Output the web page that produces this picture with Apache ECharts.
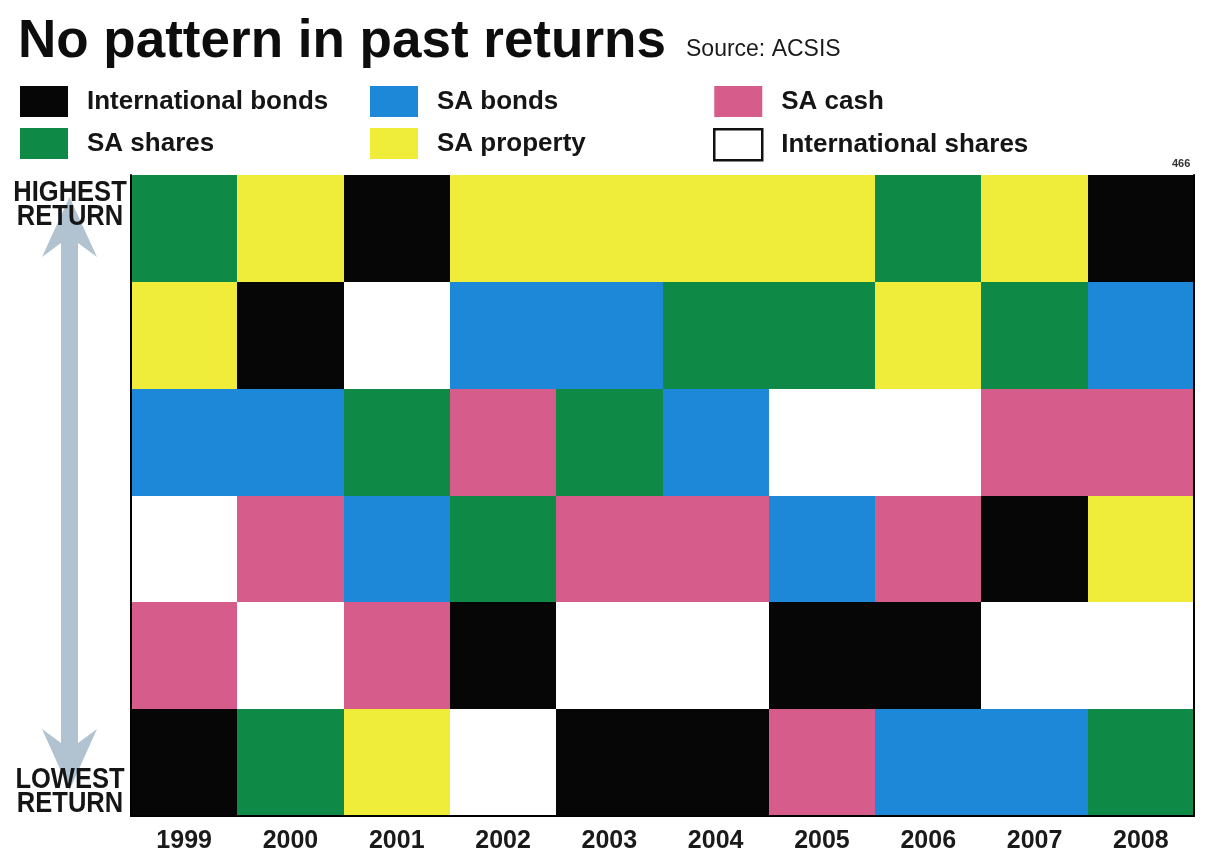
<!DOCTYPE html>
<html>
<head>
<meta charset="utf-8">
<script src="https://cdn.jsdelivr.net/npm/echarts@6/dist/echarts.min.js"></script>
<style>
html,body{margin:0;padding:0;background:#ffffff;}
#chart{width:1216px;height:861px;}
</style>
</head>
<body>
<div id="chart"></div>
<script>
// ---- data ----
const years = ['1999','2000','2001','2002','2003','2004','2005','2006','2007','2008'];
const ranks = ['1','2','3','4','5','6']; // 1 = highest return, 6 = lowest return
const classCodes = ['IB','SB','SC','SS','SP','IS'];
const classNames = ['International bonds','SA bonds','SA cash','SA shares','SA property','International shares'];
const classColors = ['#060606','#1e88d8','#d65c8c','#0f8a46','#f0ec3a','#ffffff'];
// asset class in each rank, per year
const rank1 = ['SS','SP','IB','SP','SP','SP','SP','SS','SP','IB'];
const rank2 = ['SP','IB','IS','SB','SB','SS','SS','SP','SS','SB'];
const rank3 = ['SB','SB','SS','SC','SS','SB','IS','IS','SC','SC'];
const rank4 = ['IS','SC','SB','SS','SC','SC','SB','SC','IB','SP'];
const rank5 = ['SC','IS','SC','IB','IS','IS','IB','IB','IS','IS'];
const rank6 = ['IB','SS','SP','IS','IB','IB','SC','SB','SB','SS'];
const rankRows = [rank1, rank2, rank3, rank4, rank5, rank6];

const FONT = "'Liberation Sans', Arial, sans-serif";

const chart = echarts.init(document.getElementById('chart'));

function snap(v) { return Math.round(Math.round(v * 1000) / 1000); }

const series = classCodes.map((code, ci) => {
  const data = [];
  rankRows.forEach((row, ri) => {
    row.forEach((c, yi) => { if (c === code) data.push([yi, ri]); });
  });
  return {
    type: 'custom',
    name: classNames[ci],
    coordinateSystem: 'cartesian2d',
    itemStyle: { color: classColors[ci] },
    encode: { x: 0, y: 1 },
    data: data,
    renderItem: function (params, api) {
      const p = api.coord([api.value(0), api.value(1)]);
      const s = api.size([1, 1]);
      const x0 = snap(p[0] - s[0] / 2), x1 = snap(p[0] + s[0] / 2);
      const y0 = snap(p[1] - s[1] / 2), y1 = snap(p[1] + s[1] / 2);
      return {
        type: 'rect',
        shape: { x: x0, y: y0, width: x1 - x0, height: y1 - y0 },
        style: { fill: api.visual('color') }
      };
    }
  };
});

const legendBase = {
  orient: 'vertical', top: 86, padding: 0, itemGap: 11,
  itemWidth: 48, itemHeight: 31, icon: 'rect', selectedMode: false,
  textStyle: { fontSize: 26, fontWeight: 'bold', color: '#151515', fontFamily: FONT, padding: [0, 0, 0, 14] }
};
function legendItem(name) {
  if (name === 'International shares') return { name: name, itemStyle: { borderColor: '#111', borderWidth: 2.5 } };
  return { name: name };
}

const arrowColor = '#a9bccb';

const option = {
  backgroundColor: '#ffffff',
  animation: false,
  title: {
    text: 'No pattern in past returns',
    left: 18, top: 16, padding: 0,
    textStyle: { fontSize: 53, fontWeight: 'bold', color: '#0d0d0d', fontFamily: FONT }
  },
  legend: [
    Object.assign({}, legendBase, { left: 20, data: ['International bonds','SA shares'].map(legendItem) }),
    Object.assign({}, legendBase, { left: 370, data: ['SA bonds','SA property'].map(legendItem) }),
    Object.assign({}, legendBase, { left: 713, data: ['SA cash','International shares'].map(legendItem) })
  ],
  grid: { left: 131, right: 22, top: 175, bottom: 45 },
  xAxis: {
    type: 'category', data: years, position: 'bottom', z: 10,
    axisLine: { show: true, lineStyle: { color: '#000', width: 2 } },
    axisTick: { show: false },
    splitLine: { show: false },
    axisLabel: { fontSize: 25, fontWeight: 'bold', color: '#1a1a1a', fontFamily: FONT, margin: 13 }
  },
  yAxis: [
    {
      type: 'category', data: ranks, inverse: true, position: 'left', z: 10,
      axisLine: { show: true, lineStyle: { color: '#000', width: 2 } },
      axisTick: { show: false }, axisLabel: { show: false }, splitLine: { show: false }
    },
    {
      type: 'category', data: ranks, inverse: true, position: 'right', z: 10,
      axisLine: { show: true, lineStyle: { color: '#000', width: 2 } },
      axisTick: { show: false }, axisLabel: { show: false }, splitLine: { show: false }
    }
  ],
  graphic: [
    {
      type: 'polygon', z: 1,
      shape: { points: [
        [69.5, 197], [97, 257], [78, 243], [78, 743], [97, 729], [69.5, 790],
        [42, 729], [61, 743], [61, 243], [42, 257]
      ] },
      style: { fill: arrowColor, opacity: 0.9 }
    },
    {
      type: 'text', x: 686, y: 38, z: 5,
      style: { text: 'Source: ACSIS', font: "23px " + FONT, fill: '#1a1a1a' }
    },
    {
      type: 'text', x: 70, y: 181, z: 5, scaleX: 0.88, originX: 0,
      style: { text: 'HIGHEST\nRETURN', font: "bold 29px " + FONT, fill: '#151515', align: 'center', lineHeight: 24 }
    },
    {
      type: 'text', x: 70, y: 768, z: 5, scaleX: 0.88, originX: 0,
      style: { text: 'LOWEST\nRETURN', font: "bold 29px " + FONT, fill: '#151515', align: 'center', lineHeight: 24 }
    },
    {
      type: 'text', x: 1172, y: 158, z: 5,
      style: { text: '466', font: "bold 11px " + FONT, fill: '#333' }
    }
  ],
  series: series
};
chart.setOption(option);
</script>
</body>
</html>
